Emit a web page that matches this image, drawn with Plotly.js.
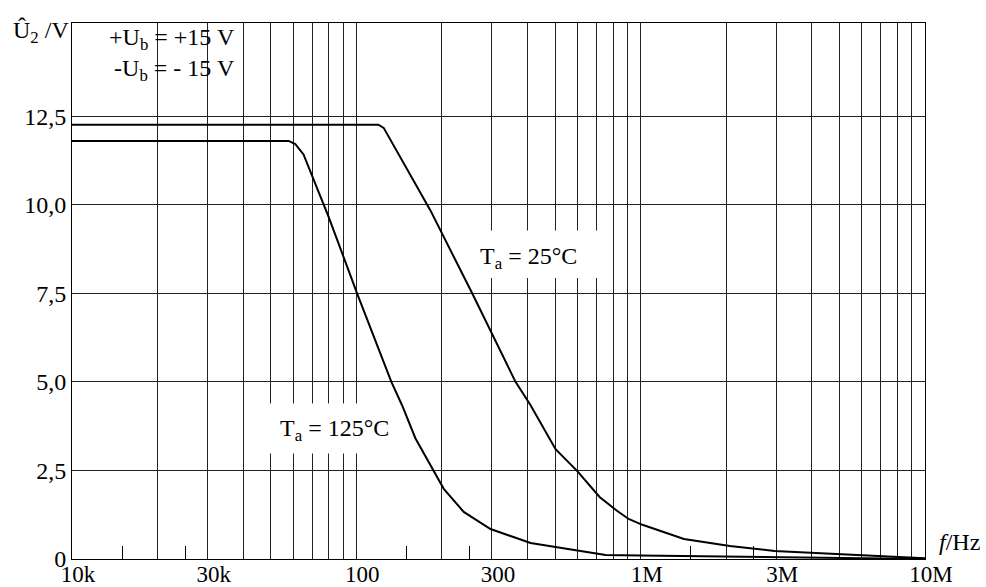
<!DOCTYPE html>
<html><head><meta charset="utf-8">
<script src="https://cdn.plot.ly/plotly-3.0.1.min.js"></script>
<style>html,body{margin:0;padding:0;background:#fff}</style>
</head><body><div id="chart" style="width:986px;height:587px"></div>
<script>
// Data (f in Hz, U2 peak in V)
const freq25 = [1e4, 119.5e3, 124.8e3, 182.2e3, 255.5e3, 296.4e3, 363e3, 410e3, 475.5e3, 502e3, 598.6e3, 717e3, 823e3, 907e3, 1.014e6, 1.42e6, 2.06e6, 2.96e6, 4.3e6, 5.95e6, 1e7];
const u25 = [12.26, 12.26, 12.17, 9.84, 7.5, 6.45, 5.0, 4.34, 3.41, 3.10, 2.48, 1.75, 1.37, 1.13, 0.965, 0.567, 0.364, 0.229, 0.163, 0.115, 0.02];
const freq125 = [1e4, 57.8e3, 61e3, 65.2e3, 79.9e3, 100.6e3, 132.8e3, 144.8e3, 161.3e3, 187.2e3, 203e3, 238.6e3, 296.4e3, 410e3, 509e3, 753e3, 1e6, 1e7];
const u125 = [11.80, 11.80, 11.71, 11.42, 9.66, 7.5, 5.0, 4.34, 3.41, 2.5, 1.98, 1.33, 0.845, 0.45, 0.335, 0.115, 0.10, 0.0];

// Axis ticks / labels
const xGridVals = [1e4,2e4,3e4,4e4,5e4,6e4,7e4,8e4,9e4,1e5,2e5,3e5,4e5,5e5,6e5,7e5,8e5,9e5,1e6,2e6,3e6,4e6,5e6,6e6,7e6,8e6,9e6,1e7];
const xLabelVals = [1e4, 3e4, 1e5, 3e5, 1e6, 3e6, 1e7];
const xLabelText = ['10k', '30k', '100', '300', '1M', '3M', '10M'];
const xMinorVals = [1.5e4, 2.5e4, 1.5e5, 2.5e5, 1.5e6, 2.5e6];
const yTickVals = [0, 2.5, 5, 7.5, 10, 12.5];
const yTickText = ['0', '2,5', '5,0', '7,5', '10,0', '12,5'];

const xTickText = xGridVals.map(v => {
  const i = xLabelVals.indexOf(v);
  return i >= 0 ? xLabelText[i] : '';
});

const FONT = 'Liberation Serif, Times New Roman, serif';
const lineStyle = {color: '#000', width: 2};

const traces = [
  {x: freq25, y: u25, type: 'scatter', mode: 'lines', line: lineStyle, name: 'Ta = 25°C', hoverinfo: 'skip'},
  {x: freq125, y: u125, type: 'scatter', mode: 'lines', line: lineStyle, name: 'Ta = 125°C', hoverinfo: 'skip'}
];

const layout = {
  width: 986, height: 587,
  margin: {l: 72, r: 61, t: 23, b: 28, pad: 0},
  paper_bgcolor: '#fff', plot_bgcolor: '#fff',
  showlegend: false,
  font: {family: FONT, size: 24, color: '#000'},
  xaxis: {
    type: 'log', range: [4, 7],
    tickmode: 'array', tickvals: xGridVals, ticktext: xTickText,
    ticks: '', showgrid: true, gridcolor: '#222', gridwidth: 1,
    showline: true, linecolor: '#000', linewidth: 1, mirror: true,
    zeroline: false, ticklabelshift: 6, ticklabelstandoff: -6,
    tickfont: {family: FONT, size: 23, color: '#000'},
    minor: {tickmode: 'array', tickvals: xMinorVals, ticks: 'inside', ticklen: 13, tickwidth: 1, tickcolor: '#000', showgrid: false},
    fixedrange: true
  },
  yaxis: {
    range: [0, 15.13],
    tickmode: 'array', tickvals: yTickVals, ticktext: yTickText,
    ticks: '', showgrid: true, gridcolor: '#222', gridwidth: 1,
    showline: true, linecolor: '#000', linewidth: 1, mirror: true,
    zeroline: false,
    tickfont: {family: FONT, size: 24, color: '#000'},
    fixedrange: true
  },
  shapes: [
    {type: 'rect', layer: 'between', xref: 'x', yref: 'y', x0: 252e3, x1: 759e3, y0: 7.93, y1: 9.27, fillcolor: '#fff', line: {width: 0}},
    {type: 'rect', layer: 'between', xref: 'x', yref: 'y', x0: 45.9e3, x1: 113.8e3, y0: 2.98, y1: 4.39, fillcolor: '#fff', line: {width: 0}}
  ],
  annotations: [
    {xref: 'paper', yref: 'paper', x: -0.0715, y: 1.014, xanchor: 'left', yanchor: 'top', showarrow: false,
     text: 'Û<sub>2</sub> /V', font: {family: FONT, size: 24}},
    {xref: 'paper', yref: 'paper', x: 0.194, y: 1.002, xanchor: 'right', yanchor: 'top', showarrow: false, align: 'right',
     text: '+U<sub>b</sub> = +15 V<br>-U<sub>b</sub> = - 15 V', font: {family: FONT, size: 24}},
    {xref: 'paper', yref: 'y', x: 0.5346, y: 8.49, xanchor: 'center', yanchor: 'middle', showarrow: false,
     text: 'T<sub>a</sub> = 25°C', font: {family: FONT, size: 24}},
    {xref: 'paper', yref: 'y', x: 0.3083, y: 3.64, xanchor: 'center', yanchor: 'middle', showarrow: false,
     text: 'T<sub>a</sub> = 125°C', font: {family: FONT, size: 24}},
    {xref: 'paper', yref: 'paper', x: 1.041, y: 0.0317, xanchor: 'center', yanchor: 'middle', showarrow: false,
     text: '<i>f</i>/Hz', font: {family: FONT, size: 24}}
  ]
};

Plotly.newPlot('chart', traces, layout, {staticPlot: true, displayModeBar: false});
</script>
</body></html>
